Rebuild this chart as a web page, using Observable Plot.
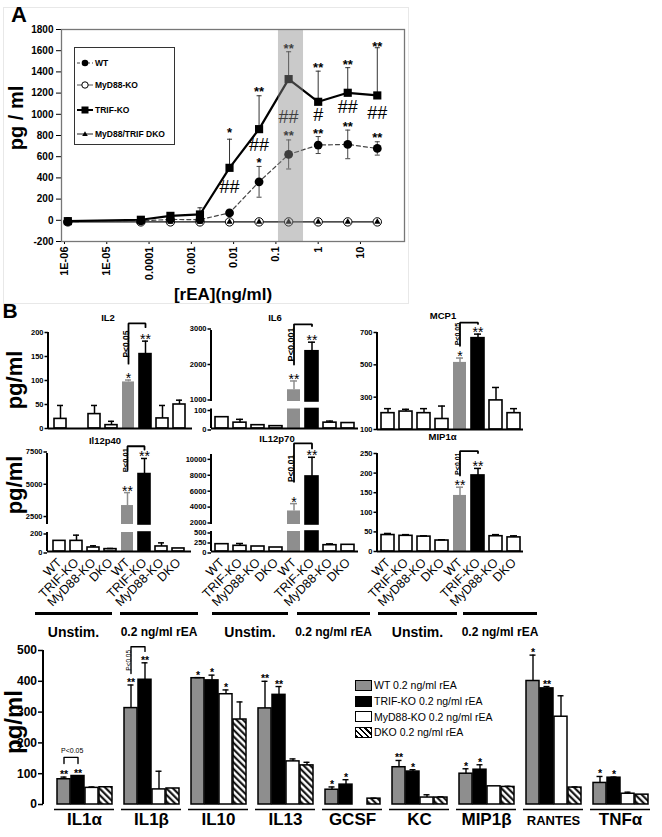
<!DOCTYPE html>
<html><head><meta charset="utf-8">
<script src="https://cdn.jsdelivr.net/npm/d3@7"></script>
<script src="https://cdn.jsdelivr.net/npm/@observablehq/plot@0.6"></script>
<style>
body{margin:0;background:#fff;}
#root{position:relative;width:662px;height:837px;overflow:hidden;background:#fff;font-family:Arial,'Liberation Sans',Helvetica,sans-serif;}
</style></head><body><div id="root"></div>
<script>
// ================= Panel A data =================
const concA = [1.2e-6, 6.4e-5, 3.2e-4, 1.6e-3, 8e-3, 0.04, 0.2, 1, 5, 25];
const wtA = [-13, -5, 8, 6, 70, 363, 621, 710, 716, 678];
const wtErrA = [0, 0, 0, 0, 0, 145, 137, 80, 135, 63];
const trifA = [-8, 5, 42, 55, 495, 860, 1332, 1118, 1203, 1178];
const trifErrA = [0, 0, 0, 63, 270, 315, 258, 289, 237, 450];
const myd88A = [-15, -15, -15, -15, -15, -15, -15, -15, -15, -15];
const dkoA = [-15, -15, -15, -15, -15, -15, -15, -15, -15, -15];
const highlightA = [0.115, 0.45];
const yTicksA = [-200, 0, 200, 400, 600, 800, 1000, 1200, 1400, 1600, 1800];
const xTicksA = [1e-6, 1e-5, 1e-4, 1e-3, 1e-2, 0.1, 1, 10];
const xTickLabelsA = ["1E-06", "1E-05", "0.0001", "0.001", "0.01", "0.1", "1", "10"];
const annConcA = [0.008, 0.008, 0.04, 0.04, 0.04, 0.2, 0.2, 0.2, 1, 1, 1, 5, 5, 5, 25, 25, 25];
const annValA = [866, 309, 1253, 706, 583, 1658, 970, 838, 1479, 989, 857, 1507, 1064, 923, 1677, 1008, 819];
const annTextA = ["*", "##", "**", "##", "*", "**", "##", "**", "**", "#", "**", "**", "##", "**", "**", "##", "**"];
const seriesNamesA = ["WT", "MyD88-KO", "TRIF-KO", "MyD88/TRIF DKO"];

// ================= Panel B (small charts) data =================
const barLabels = ["WT", "TRIF-KO", "MyD88-KO", "DKO", "WT", "TRIF-KO", "MyD88-KO", "DKO"];
const il2Mean = [20, 0, 30, 7, 97, 155, 21, 50];
const il2Err = [28, 0, 18, 8, 4, 27, 27, 9];
const il2Sig = ["", "", "", "", "*", "**", "", ""];
const il6Mean = [58, 30, 17, 12, 1331, 2416, 30, 28];
const il6Err = [0, 17, 0, 0, 247, 255, 8, 0];
const il6Sig = ["", "", "", "", "**", "**", "", ""];
const mcp1Mean = [201, 211, 201, 165, 515, 665, 280, 201];
const mcp1Err = [28, 14, 28, 80, 27, 25, 80, 28];
const mcp1Sig = ["", "", "", "", "*", "**", "", ""];
const il12p40Mean = [112, 112, 42, 25, 3469, 5908, 53, 32];
const il12p40Err = [0, 60, 18, 7, 1001, 1207, 38, 0];
const il12p40Sig = ["", "", "", "", "**", "**", "", ""];
const il12p70Mean = [183, 142, 125, 100, 3700, 8040, 158, 167];
const il12p70Err = [0, 58, 0, 0, 925, 2410, 33, 0];
const il12p70Sig = ["", "", "", "", "*", "**", "", ""];
const mip1aMean = [42, 40, 38, 28, 143, 194, 39, 36];
const mip1aErr = [4, 3, 2, 2, 21, 18, 4, 4];
const mip1aSig = ["", "", "", "", "**", "**", "", ""];
const il2Bracket = {a: 4, b: 5, top: 219, aLow: 135, bLow: 211, labelAt: 176, text: "P<0.05"};
const il6Bracket = {a: 4, b: 5, top: 3173, aLow: 2040, bLow: 3125, labelAt: 2606, text: "P<0.001"};
const mcp1Bracket = {a: 4, b: 5, top: 761, aLow: 618, bLow: 753, labelAt: 690, text: "P<0.05"};
const il12p40Bracket = {a: 4, b: 5, top: 8062, aLow: 6215, bLow: 7808, labelAt: 6985, text: "P<0.01"};
const il12p70Bracket = {a: 4, b: 5, top: 12190, aLow: 7360, bLow: 11560, labelAt: 9044, text: "P<0.01"};
const mip1aBracket = {a: 4, b: 5, top: 256, aLow: 194, bLow: 251, labelAt: 224, text: "P<0.01"};
const groupNames = ["Unstim.", "0.2 ng/ml rEA"];

// ================= Panel B (bottom chart) data =================
const cytokines = ["IL1α", "IL1β", "IL10", "IL13", "GCSF", "KC", "MIP1β", "RANTES", "TNFα"];
const genotypes = ["WT", "TRIF-KO", "MyD88-KO", "DKO"];
const legendB = ["WT 0.2 ng/ml rEA", "TRIF-KO 0.2 ng/ml rEA", "MyD88-KO 0.2 ng/ml rEA", "DKO 0.2 ng/ml rEA"];
const wtMeanB = [82, 313, 410, 312, 48, 121, 100, 401, 70];
const wtErrB = [7, 75, 2, 88, 9, 22, 16, 84, 21];
const trifMeanB = [92.5, 405, 403, 356, 64.5, 107, 113, 377, 87];
const trifErrB = [1, 55, 17, 27, 16, 6, 16, 6, 2];
const myd88MeanB = [54, 49, 358, 140, 0, 22.6, 59, 285, 35];
const myd88ErrB = [3, 59, 14, 8, 0, 9, 0, 68, 5];
const dkoMeanB = [56, 52, 276, 127, 19, 22.6, 57, 55, 32];
const dkoErrB = [0, 0, 57, 10, 1.5, 2.5, 2, 2, 0];
const wtSigB = ["**", "**", "*", "**", "*", "**", "*", "*", "*"];
const trifSigB = ["**", "**", "*", "**", "*", "*", "*", "**", "*"];
const myd88SigB = ["", "", "*", "", "", "", "", "", ""];
const dkoSigB = ["", "", "", "", "", "", "", "", ""];
const yTicksB = [0, 100, 200, 300, 400, 500];
const il1aBracket = {cyt: "IL1α", a: "WT", b: "TRIF-KO", top: 153, aLow: 133, bLow: 133, labelAt: 173, text: "P<0.05"};
const il1bBracket = {cyt: "IL1β", a: "WT", b: "TRIF-KO", top: 512, aLow: 425, bLow: 497, labelAt: 468, text: "P<0.05"};

// ================= helpers =================
const FONT = "Arial, 'Liberation Sans', Helvetica, sans-serif";
const NS = "http://www.w3.org/2000/svg";
const root = document.getElementById("root");
const GRAY = "#8e8e8e";
const baseStyle = (extra = {}) => Object.assign({fontFamily: FONT, background: "transparent", overflow: "visible", color: "#000", maxWidth: "none", WebkitFontSmoothing: "antialiased"}, extra);

function put(el, left, top) {
  el.style.position = "absolute";
  el.style.left = left + "px";
  el.style.top = top + "px";
  root.appendChild(el);
  return el;
}
function txt(s, x, y, o = {}) {
  const d = document.createElement("div");
  d.textContent = s;
  const align = o.align || "center";
  Object.assign(d.style, {
    position: "absolute", left: x + "px", top: y + "px", fontSize: (o.size || 12) + "px",
    fontWeight: o.weight || "bold", fontFamily: FONT, color: o.color || "#000", whiteSpace: "nowrap",
    lineHeight: "1", transform: `translate(${align === "center" ? "-50%" : "0"}, -50%) rotate(${o.rotate || 0}deg)`
  });
  root.appendChild(d);
  return d;
}
function axisLineMark(w) {
  return (index, scales, values, dim) => {
    const l = document.createElementNS(NS, "line");
    l.setAttribute("x1", dim.marginLeft); l.setAttribute("x2", dim.marginLeft);
    l.setAttribute("y1", dim.marginTop); l.setAttribute("y2", dim.height - dim.marginBottom);
    l.setAttribute("stroke", "#000"); l.setAttribute("stroke-width", w);
    return l;
  };
}
const capSymbol = {draw(ctx, size) { const r = Math.sqrt(size / Math.PI); ctx.moveTo(-r, 0); ctx.lineTo(r, 0); }};

// hatch pattern defs
const defs = document.createElementNS(NS, "svg");
defs.setAttribute("width", 0); defs.setAttribute("height", 0);
defs.innerHTML = `<defs><pattern id="hatch" patternUnits="userSpaceOnUse" width="4.6" height="4.6" patternTransform="rotate(-45)"><rect width="4.6" height="4.6" fill="#fff"/><line x1="1.2" y1="0" x2="1.2" y2="4.6" stroke="#000" stroke-width="2"/></pattern></defs>`;
put(defs, 0, 0);

// ================= Panel A =================
{
  const frame = document.createElement("div");
  Object.assign(frame.style, {width: "406px", height: "297px", border: "1px solid #e8e8e8", boxSizing: "border-box"});
  put(frame, 3, 7);

  const iA = d3.range(concA.length);
  const wtE = iA.filter(i => wtErrA[i] > 0);
  const trE = iA.filter(i => trifErrA[i] > 0);
  const annI = d3.range(annTextA.length);
  const starI = annI.filter(i => annTextA[i].startsWith("*"));
  const hashI = annI.filter(i => annTextA[i].startsWith("#"));
  const cx = i => concA[i];
  const svgA = Plot.plot({
    width: 420, height: 305, marginLeft: 61, marginRight: 16, marginTop: 29, marginBottom: 64,
    x: {type: "log", domain: [8.5e-7, 110]},
    y: {domain: [-200, 1800]},
    style: baseStyle({fontWeight: "bold"}),
    marks: [
      Plot.axisY({ticks: yTicksA, tickFormat: d => String(d), tickSize: 5, tickPadding: 3, fontSize: 10, label: null}),
      Plot.axisX({ticks: xTicksA, tickFormat: d => xTickLabelsA[xTicksA.indexOf(d)], tickRotate: -90, tickSize: 3, tickPadding: 2, fontSize: 11, label: null}),
      Plot.line(iA, {x: cx, y: i => myd88A[i], stroke: "#555", strokeWidth: 1}),
      Plot.line(iA, {x: cx, y: i => dkoA[i], stroke: "#222", strokeWidth: 1}),
      Plot.line(iA, {x: cx, y: i => wtA[i], stroke: "#444", strokeWidth: 1.2, strokeDasharray: "4 3"}),
      Plot.line(iA, {x: cx, y: i => trifA[i], stroke: "#000", strokeWidth: 2.2}),
      Plot.ruleX(wtE, {x: cx, y1: i => wtA[i] - wtErrA[i], y2: i => wtA[i] + wtErrA[i], stroke: "#444", strokeWidth: 1}),
      Plot.dot(wtE, {x: cx, y: i => wtA[i] + wtErrA[i], symbol: capSymbol, r: 2.5, stroke: "#444", fill: "none", strokeWidth: 1}),
      Plot.dot(wtE, {x: cx, y: i => wtA[i] - wtErrA[i], symbol: capSymbol, r: 2.5, stroke: "#444", fill: "none", strokeWidth: 1}),
      Plot.ruleX(trE, {x: cx, y1: i => trifA[i], y2: i => trifA[i] + trifErrA[i], stroke: "#333", strokeWidth: 1}),
      Plot.dot(trE, {x: cx, y: i => trifA[i] + trifErrA[i], symbol: capSymbol, r: 2.5, stroke: "#333", fill: "none", strokeWidth: 1}),
      Plot.dot(iA, {x: cx, y: i => myd88A[i], symbol: "circle", r: 4.2, fill: "#fff", stroke: "#000", strokeWidth: 1}),
      Plot.dot(iA, {x: cx, y: i => dkoA[i], symbol: "triangle", r: 2.4, fill: "#000", stroke: "none"}),
      Plot.dot(iA, {x: cx, y: i => wtA[i], symbol: "circle", r: 4.4, fill: "#000", stroke: "none"}),
      Plot.dot(iA, {x: cx, y: i => trifA[i], symbol: "square", r: 4.6, fill: "#000", stroke: "none"}),
      Plot.text(starI, {x: i => annConcA[i], y: i => annValA[i], text: i => annTextA[i], fontSize: 13, dy: 4, fill: "#000"}),
      Plot.text(hashI, {x: i => annConcA[i], y: i => annValA[i], text: i => annTextA[i], fontSize: 18, fontWeight: "normal", fill: "#000"}),
      Plot.rect([0], {x1: () => highlightA[0], x2: () => highlightA[1], fill: "#8a8a8a", fillOpacity: 0.45}),
      Plot.frame({stroke: "#777", strokeWidth: 1.3})
    ]
  });
  put(svgA, 0, 0);

  // legend (HTML)
  const leg = document.createElement("div");
  Object.assign(leg.style, {width: "101px", height: "98px", border: "1px solid #333", background: "#fff", boxSizing: "border-box"});
  put(leg, 74, 47);
  const symbols = [
    `<line x1="0" y1="5" x2="16" y2="5" stroke="#444" stroke-dasharray="3 2" stroke-width="1"/><circle cx="8" cy="5" r="3.3" fill="#000"/>`,
    `<line x1="0" y1="5" x2="16" y2="5" stroke="#555" stroke-width="1"/><circle cx="8" cy="5" r="3.2" fill="#fff" stroke="#000"/>`,
    `<line x1="0" y1="5" x2="16" y2="5" stroke="#000" stroke-width="2"/><rect x="4.5" y="1.5" width="7" height="7" fill="#000"/>`,
    `<line x1="0" y1="5" x2="16" y2="5" stroke="#222" stroke-width="1"/><path d="M8,2.2 L10.8,7 L5.2,7 Z" fill="#000"/>`
  ];
  const rowsY = [14.7, 37.3, 62.3, 86.3];
  seriesNamesA.forEach((name, k) => {
    const s = document.createElementNS(NS, "svg");
    s.setAttribute("width", 17); s.setAttribute("height", 10);
    s.innerHTML = symbols[k];
    Object.assign(s.style, {position: "absolute", left: "2px", top: (rowsY[k] - 5) + "px"});
    leg.appendChild(s);
    const t = document.createElement("div");
    t.textContent = name;
    Object.assign(t.style, {position: "absolute", left: "20px", top: (rowsY[k] - 5) + "px", fontSize: "8.5px", fontWeight: "bold", fontFamily: FONT, lineHeight: "10px", whiteSpace: "nowrap"});
    leg.appendChild(t);
  });

  txt("A", 19, 15, {size: 22});
  txt("pg / ml", 16, 118, {size: 20, rotate: -90});
  txt("[rEA](ng/ml)", 223, 294, {size: 17});
}

// ================= Panel B small bar charts =================
function rowChart(c) {
  const idx = d3.range(8);
  const {mean, err, dom, seg} = c;
  const bars = idx.filter(i => mean[i] > dom[0]);
  const errs = idx.filter(i => err[i] > 0 && (seg === "upper" ? mean[i] > dom[0] : mean[i] + err[i] <= dom[1]));
  const fillOf = i => i === 4 ? GRAY : i === 5 ? "#000" : "#fff";
  const strokeOf = i => i === 4 ? "none" : "#000";
  const errOf = i => i === 4 ? GRAY : "#000";
  const axisDy = seg === "upper" ? -1.5 : seg === "lower" ? 1.5 : 0;
  const marks = [
    Plot.axisY({ticks: c.ticks, tickFormat: d => String(d), tickSize: 3.5, tickPadding: 1.5, fontSize: 7.5, fontWeight: "bold", label: null, strokeWidth: 1.5, dy: axisDy}),
    Plot.barY(bars, {x: i => i, y1: () => dom[0], y2: i => Math.min(mean[i], dom[1]), fill: fillOf, stroke: strokeOf, strokeWidth: 1.6}),
    Plot.ruleX(errs, {x: i => i, y1: i => mean[i], y2: i => mean[i] + err[i], stroke: errOf, strokeWidth: 1.5}),
    Plot.tickY(errs, {x: i => i, y: i => mean[i] + err[i], stroke: errOf, strokeWidth: 1.5, insetLeft: 3, insetRight: 3}),
    axisLineMark(2)
  ];
  if (seg !== "upper") marks.push(Plot.ruleY([dom[0]], {stroke: "#000", strokeWidth: 2}));
  if (seg !== "lower") {
    const sI = idx.filter(i => c.sig[i]);
    marks.push(Plot.text(sI, {x: i => i, y: i => mean[i] + err[i], text: i => c.sig[i], lineAnchor: "bottom", fontSize: 14, dy: 3, fill: "#000"}));
    const b = c.bracket;
    marks.push(Plot.line([[b.a, b.aLow], [b.a, b.top], [b.b, b.top], [b.b, b.bLow]], {x: d => d[0], y: d => d[1], stroke: "#000", strokeWidth: 1.8, strokeLinejoin: "miter"}));
    marks.push(Plot.text([b], {x: d => d.a, y: d => d.labelAt, text: d => d.text, rotate: -90, lineAnchor: "bottom", fontSize: c.labelSize, fontWeight: "bold", fill: "#000"}));
  }
  if (c.showX) marks.push(Plot.axisX({tickFormat: i => barLabels[i], tickRotate: -45, tickSize: 0, tickPadding: 9, fontSize: 12.5, label: null}));
  const svg = Plot.plot({
    width: c.width, height: c.height, marginLeft: c.mL, marginRight: c.mR, marginTop: c.mT, marginBottom: c.mB,
    x: {type: "band", domain: idx, paddingInner: 0.28, paddingOuter: 0.15, axis: c.showX ? undefined : null},
    y: {domain: dom},
    color: {type: "identity"},
    style: baseStyle(),
    marks
  });
  put(svg, c.left, c.top);
}

rowChart({mean: il2Mean, err: il2Err, sig: il2Sig, bracket: il2Bracket, labelSize: 8.5, dom: [0, 200], ticks: [0, 50, 100, 150, 200], seg: "full",
  left: 0, top: 300, width: 200, height: 132, mL: 48, mR: 8, mT: 32, mB: 4});
rowChart({mean: il6Mean, err: il6Err, sig: il6Sig, bracket: il6Bracket, labelSize: 9, dom: [1000, 3000], ticks: [1000, 2000, 3000], seg: "upper",
  left: 163, top: 299, width: 200, height: 106, mL: 48, mR: 5, mT: 31, mB: 4});
rowChart({mean: il6Mean, err: il6Err, sig: il6Sig, dom: [0, 100], ticks: [0, 100], seg: "lower",
  left: 163, top: 405, width: 200, height: 27, mL: 48, mR: 5, mT: 3.5, mB: 4});
rowChart({mean: mcp1Mean, err: mcp1Err, sig: mcp1Sig, bracket: mcp1Bracket, labelSize: 7, dom: [100, 700], ticks: [100, 300, 500, 700], seg: "full",
  left: 329, top: 300, width: 200, height: 133, mL: 48, mR: 6, mT: 32, mB: 4});
rowChart({mean: il12p40Mean, err: il12p40Err, sig: il12p40Sig, bracket: il12p40Bracket, labelSize: 7.5, dom: [2000, 7500], ticks: [2500, 5000, 7500], seg: "upper",
  left: 0, top: 420, width: 200, height: 108, mL: 47, mR: 9, mT: 33, mB: 4});
rowChart({mean: il12p40Mean, err: il12p40Err, sig: il12p40Sig, dom: [0, 200], ticks: [0, 200], seg: "lower", showX: true,
  left: 0, top: 527, width: 200, height: 86, mL: 47, mR: 9, mT: 5, mB: 62});
rowChart({mean: il12p70Mean, err: il12p70Err, sig: il12p70Sig, bracket: il12p70Bracket, labelSize: 8.5, dom: [2000, 10800], ticks: [2000, 4000, 6000, 8000, 10000], seg: "upper",
  left: 163, top: 420, width: 200, height: 108, mL: 48, mR: 5, mT: 34, mB: 4});
rowChart({mean: il12p70Mean, err: il12p70Err, sig: il12p70Sig, dom: [0, 500], ticks: [0, 250, 500], seg: "lower", showX: true,
  left: 163, top: 527, width: 200, height: 86, mL: 48, mR: 5, mT: 4, mB: 62});
rowChart({mean: mip1aMean, err: mip1aErr, sig: mip1aSig, bracket: mip1aBracket, labelSize: 7, dom: [0, 250], ticks: [0, 50, 100, 150, 200, 250], seg: "full", showX: true,
  left: 329, top: 420, width: 200, height: 193, mL: 48, mR: 6, mT: 33, mB: 62});

txt("B", 10, 310, {size: 21});
txt("IL2", 108, 318, {size: 9.5});
txt("IL6", 275, 318, {size: 9.5});
txt("MCP1", 443, 316, {size: 9.5});
txt("Il12p40", 105, 441, {size: 9.5});
txt("IL12p70", 277, 439, {size: 9.5});
txt("MIP1α", 442.5, 437, {size: 9.5});
txt("pg/ml", 15, 380, {size: 22, rotate: -90});
txt("pg/ml", 15, 485, {size: 22, rotate: -90});

// group underlines + labels
const groupSpans = [[35, 112], [120, 198], [212, 288], [297, 370], [378, 457], [463, 537]];
groupSpans.forEach(([a, b], k) => {
  const d = document.createElement("div");
  Object.assign(d.style, {width: (b - a) + "px", height: "3px", background: "#000"});
  put(d, a, 612);
  const name = groupNames[k % 2];
  txt(name, (a + b) / 2, 632, {size: k % 2 ? 12 : 14});
});

// ================= Panel B bottom grouped chart =================
{
  const meansB = [wtMeanB, trifMeanB, myd88MeanB, dkoMeanB];
  const errsB = [wtErrB, trifErrB, myd88ErrB, dkoErrB];
  const sigsB = [wtSigB, trifSigB, myd88SigB, dkoSigB];
  const fillB = {"WT": GRAY, "TRIF-KO": "#000", "MyD88-KO": "#fff", "DKO": "url(#hatch)"};
  const rowsB = [];
  cytokines.forEach((cyt, k) => genotypes.forEach((geno, j) => rowsB.push({cyt, geno, mean: meansB[j][k], err: errsB[j][k], sig: sigsB[j][k]})));
  const brk = (b) => [[b.a, b.aLow], [b.a, b.top], [b.b, b.top], [b.b, b.bLow]].map(p => ({cyt: b.cyt, x: p[0], y: p[1]}));
  const H = 207, MT = 20, MB = 33;
  const svgB = Plot.plot({
    width: 662, height: H, marginLeft: 43, marginRight: 0, marginTop: MT, marginBottom: MB,
    fx: {domain: cytokines, paddingInner: 0.1, paddingOuter: 0.15, axis: null},
    x: {domain: genotypes, paddingInner: 0.1, paddingOuter: 0.1, axis: null},
    y: {domain: [0, 500], axis: null},
    color: {type: "identity"},
    style: baseStyle(),
    marks: [
      Plot.barY(rowsB.filter(r => r.mean > 0), {fx: "cyt", x: "geno", y: "mean", fill: r => fillB[r.geno], stroke: "#000", strokeWidth: 1.5}),
      Plot.ruleX(rowsB.filter(r => r.err > 0), {fx: "cyt", x: "geno", y1: "mean", y2: r => r.mean + r.err, stroke: "#000", strokeWidth: 1.4}),
      Plot.tickY(rowsB.filter(r => r.err > 0), {fx: "cyt", x: "geno", y: r => r.mean + r.err, stroke: "#000", strokeWidth: 1.4, insetLeft: 3.5, insetRight: 3.5}),
      Plot.text(rowsB.filter(r => r.sig), {fx: "cyt", x: "geno", y: r => r.mean + r.err, text: "sig", lineAnchor: "bottom", fontSize: 10.5, fontWeight: "bold", dy: 1, fill: "#000"}),
      Plot.ruleY(cytokines, {fx: d => d, y: () => 0, dy: 5, stroke: "#000", strokeWidth: 1.5}),
      Plot.text(cytokines, {fx: d => d, text: d => d, frameAnchor: "bottom", dy: 20, fontSize: d => d === "RANTES" ? 13 : 17, fontWeight: "bold", fill: "#000"}),
      Plot.line(brk(il1aBracket), {fx: "cyt", x: "x", y: "y", stroke: "#000", strokeWidth: 1.4}),
      Plot.text([il1aBracket], {fx: "cyt", x: "a", y: "labelAt", text: "text", textAnchor: "start", dx: -3, fontSize: 7, fill: "#000"}),
      Plot.line(brk(il1bBracket), {fx: "cyt", x: "x", y: "y", stroke: "#000", strokeWidth: 1.4}),
      Plot.text([il1bBracket], {fx: "cyt", x: "a", y: "labelAt", text: "text", rotate: -90, lineAnchor: "bottom", fontSize: 6.5, fill: "#000"})
    ]
  });
  put(svgB, 0, 630);
  const axB = Plot.plot({
    width: 50, height: H, marginLeft: 43, marginRight: 7, marginTop: MT, marginBottom: MB,
    y: {domain: [0, 500]},
    style: baseStyle(),
    marks: [
      Plot.axisY({ticks: yTicksB, tickFormat: d => String(d), tickSize: 5, tickPadding: 1.5, fontSize: 12, fontWeight: "bold", label: null, strokeWidth: 1.5}),
      axisLineMark(2)
    ]
  });
  put(axB, 0, 630);
  txt("pg/ml", 14, 722, {size: 24, rotate: -90});

  // legend
  const legY = [685, 701, 716.5, 732];
  legendB.forEach((name, k) => {
    const sw = document.createElement("div");
    const bg = [GRAY, "#000", "#fff", "repeating-linear-gradient(45deg, #000 0 1.5px, #fff 1.5px 4px)"][k];
    Object.assign(sw.style, {width: "17px", height: "11px", border: "1.5px solid #000", boxSizing: "border-box", background: bg});
    put(sw, 355, legY[k] - 5.5);
    txt(name, 374, legY[k], {size: 10.5, weight: "normal", align: "left"});
  });
}
</script></body></html>
